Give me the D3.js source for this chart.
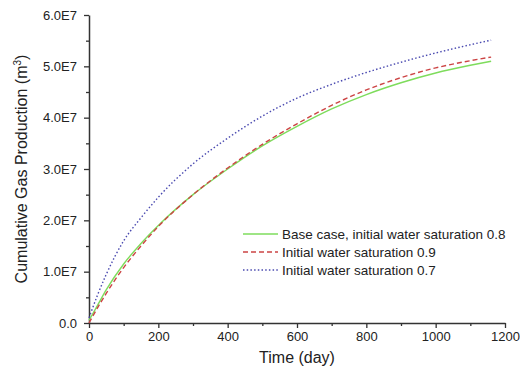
<!DOCTYPE html>
<html>
<head>
<meta charset="utf-8">
<script src="https://cdn.jsdelivr.net/npm/d3@7"></script>
<style>
  body{margin:0;background:#fff}
  svg{display:block;font-family:"Liberation Sans",Arial,sans-serif}
</style>
</head>
<body>
<svg id="chart" width="520" height="374"></svg>
<script>
// days sampled along the curves
const days = [0, 25, 50, 100, 150, 200, 300, 400, 500, 600, 700, 800, 900, 1000, 1100, 1160];
// cumulative gas production, m3
const baseCase = [0.05e7, 0.35e7, 0.65e7, 1.15e7, 1.55e7, 1.9e7, 2.5e7, 3.0e7, 3.45e7, 3.83e7, 4.17e7, 4.45e7, 4.68e7, 4.87e7, 5.02e7, 5.1e7];
const sat09 = [0.0, 0.3e7, 0.58e7, 1.08e7, 1.5e7, 1.88e7, 2.5e7, 3.02e7, 3.48e7, 3.88e7, 4.24e7, 4.54e7, 4.78e7, 4.97e7, 5.11e7, 5.18e7];
const sat07 = [0.1e7, 0.55e7, 0.95e7, 1.6e7, 2.05e7, 2.45e7, 3.1e7, 3.6e7, 4.03e7, 4.38e7, 4.65e7, 4.88e7, 5.08e7, 5.26e7, 5.42e7, 5.51e7];

const seriesNames = ['Base case, initial water saturation 0.8', 'Initial water saturation 0.9', 'Initial water saturation 0.7'];
const seriesValues = [baseCase, sat09, sat07];
const seriesColors = ['#7edc5c', '#cc4444', '#4a4ab0'];
const seriesDash = [null, '5,3', '1.5,2.2'];

const xTicks = [0, 200, 400, 600, 800, 1000, 1200];
const yTicks = [0, 1e7, 2e7, 3e7, 4e7, 5e7, 6e7];
const yTickLabels = ['0.0', '1.0E7', '2.0E7', '3.0E7', '4.0E7', '5.0E7', '6.0E7'];

const svg = d3.select('#chart');
const m = { left: 89, right: 505, top: 15, bottom: 323 };

const x = d3.scaleLinear().domain([0, 1200]).range([m.left, m.right]);
const y = d3.scaleLinear().domain([0, 6e7]).range([m.bottom, m.top]);

const axisColor = '#333';

// minor ticks
svg.append('g').attr('transform', `translate(0,${m.bottom})`)
  .call(d3.axisBottom(x).tickValues(d3.range(100, 1200, 200)).tickSize(3).tickFormat(() => ''))
  .call(g => g.select('.domain').remove());
svg.append('g').attr('transform', `translate(${m.left},0)`)
  .call(d3.axisLeft(y).tickValues(d3.range(0.5e7, 6e7, 1e7)).tickSize(3).tickFormat(() => ''))
  .call(g => g.select('.domain').remove());

// major axes
svg.append('g').attr('transform', `translate(0,${m.bottom})`)
  .call(d3.axisBottom(x).tickValues(xTicks).tickSize(5).tickSizeOuter(0).tickPadding(4).tickFormat(d3.format('d')))
  .selectAll('text').style('font-size', '13px').attr('fill', '#222');
svg.append('g').attr('transform', `translate(${m.left},0)`)
  .call(d3.axisLeft(y).tickValues(yTicks).tickSize(5).tickSizeOuter(0).tickPadding(7).tickFormat((d, i) => yTickLabels[i]))
  .selectAll('text').style('font-size', '13px').attr('fill', '#222');

svg.selectAll('.domain').attr('stroke', axisColor).attr('stroke-width', 1.5);
svg.selectAll('.tick line').attr('stroke', axisColor).attr('stroke-width', 1.3);

// axis titles
svg.append('text').attr('x', (m.left + m.right) / 2).attr('y', 363)
  .attr('text-anchor', 'middle').style('font-size', '16px').attr('fill', '#222').text('Time (day)');
const yt = svg.append('text').attr('transform', `translate(27,${(m.top + m.bottom) / 2}) rotate(-90)`)
  .attr('text-anchor', 'middle').style('font-size', '16px').attr('fill', '#222');
yt.append('tspan').text('Cumulative Gas Production (m');
yt.append('tspan').attr('dy', -6).style('font-size', '10px').text('3');
yt.append('tspan').attr('dy', 6).text(')');

// curves
const line = d3.line().x(d => x(d[0])).y(d => y(d[1])).curve(d3.curveMonotoneX);
seriesValues.forEach((vals, i) => {
  svg.append('path').datum(days.map((d, k) => [d, vals[k]]))
    .attr('fill', 'none').attr('stroke', seriesColors[i]).attr('stroke-width', 1.4)
    .attr('stroke-dasharray', seriesDash[i]).attr('d', line);
});

// legend
const leg = svg.append('g').attr('transform', 'translate(243,234)');
seriesNames.forEach((name, i) => {
  const row = leg.append('g').attr('transform', `translate(0,${i * 18})`);
  row.append('line').attr('x1', 0).attr('x2', 35).attr('y1', 0).attr('y2', 0)
    .attr('stroke', seriesColors[i]).attr('stroke-width', 1.4).attr('stroke-dasharray', seriesDash[i]);
  row.append('text').attr('x', 39).attr('y', 4.5).style('font-size', '13.5px').attr('fill', '#222').text(name);
});
</script>
</body>
</html>
